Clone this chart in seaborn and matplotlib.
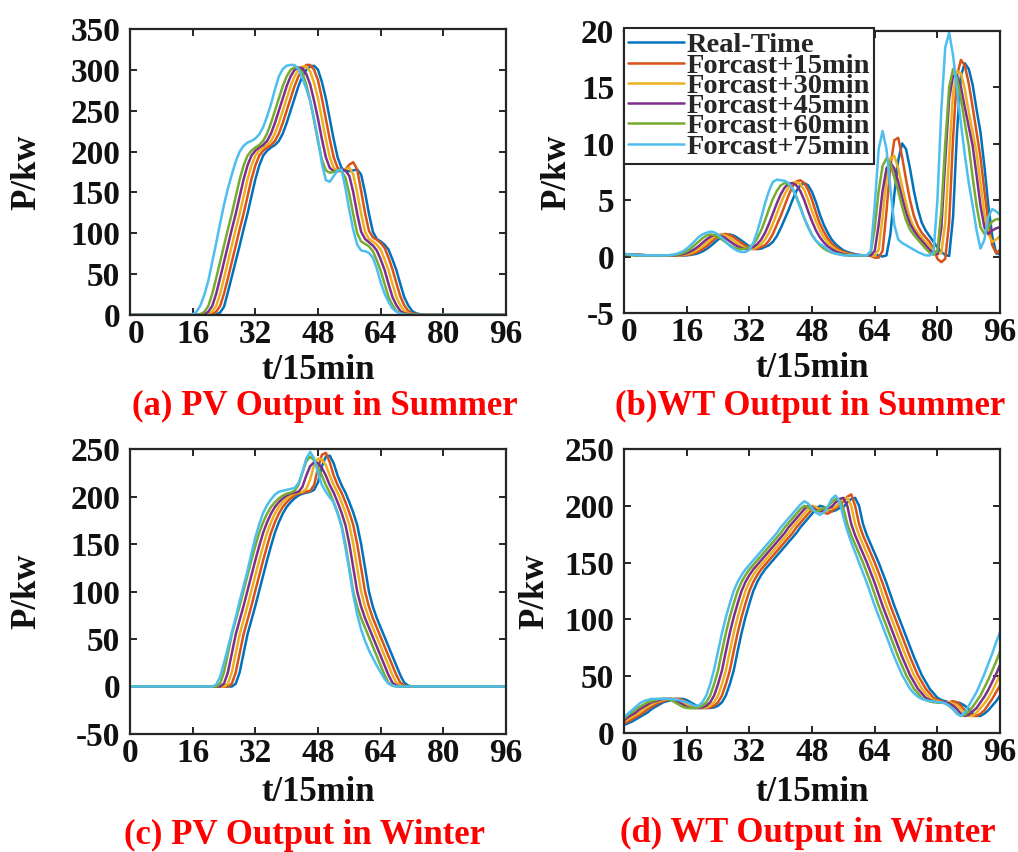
import numpy as np
import pandas as pd
import matplotlib
matplotlib.use("Agg")
import matplotlib.pyplot as plt
import matplotlib.transforms as mtransforms
import seaborn as sns

SERIES = ["Real-Time", "Forcast+15min", "Forcast+30min",
          "Forcast+45min", "Forcast+60min", "Forcast+75min"]
COLORS = ["#0072BD", "#D95319", "#EDB120", "#7E2F8E", "#77AC30", "#4DBEEE"]

T = np.arange(0, 97)   # time index, one step = 15 min

# ---------------- (a) PV output, summer (kW) ----------------
pv_sum_rt = [0]*22 + [0.5, 3, 10, 28, 47, 66, 85, 105, 124, 145, 166, 183, 195, 201, 205, 208,
                      213, 222, 235, 250, 265, 280, 292, 300, 304, 305, 300, 285, 265, 240, 215,
                      193, 180, 176, 176, 177, 178, 172, 150, 124, 102, 93, 90, 86, 80, 68, 55,
                      38, 22, 12, 5, 2, 1, 0.3] + [0]*21
pv_sum_15 = [0]*21 + [1, 4, 11, 26, 45, 65, 85, 105, 124, 145, 166, 183, 195, 201, 205, 208,
                      213, 222, 235, 250, 265, 280, 292, 301, 306, 306, 300, 287, 265, 240, 215,
                      193, 180, 177, 178, 184, 187, 178, 152, 125, 103, 95, 92, 88, 82, 70, 56,
                      39, 23, 12, 5, 2, 1, 0.3] + [0]*22
pv_sum_30 = [0]*20 + [1, 4, 11, 26, 45, 65, 85, 105, 124, 145, 166, 183, 195, 201, 205, 208,
                      213, 222, 235, 250, 265, 280, 292, 300, 304, 304, 298, 284, 265, 240, 215,
                      193, 180, 176, 176, 178, 180, 172, 150, 124, 102, 93, 90, 86, 80, 68, 55,
                      38, 22, 12, 5, 2, 1, 0.3] + [0]*23
pv_sum_45 = [0]*19 + [1, 4, 11, 26, 45, 65, 85, 105, 124, 145, 166, 183, 195, 201, 205, 208,
                      213, 222, 235, 250, 265, 280, 292, 300, 303, 302, 295, 282, 262, 240, 215,
                      193, 180, 176, 176, 177, 177, 170, 150, 124, 102, 93, 89, 85, 79, 68, 55,
                      38, 22, 12, 5, 2, 1, 0.3] + [0]*24
pv_sum_60 = [0]*18 + [1, 4, 11, 26, 45, 65, 85, 105, 124, 145, 166, 183, 195, 201, 205, 208,
                      213, 222, 235, 250, 265, 280, 292, 300, 303, 302, 296, 282, 262, 238, 212,
                      190, 177, 174, 175, 177, 176, 168, 148, 123, 100, 90, 87, 84, 78, 67, 54,
                      38, 22, 12, 5, 2, 1, 0.3] + [0]*25
pv_sum_75 = [0]*16 + [1, 4, 12, 25, 42, 65, 88, 112, 135, 155, 172, 188, 200, 207, 211, 213,
                      216, 221, 230, 243, 258, 276, 292, 301, 305, 306, 306, 301, 290, 277, 262,
                      240, 215, 185, 165, 163, 170, 177, 178, 155, 128, 104, 86, 79, 78, 76, 70,
                      57, 40, 26, 16, 8, 4, 1.5, 0.5] + [0]*26

# ---------------- (b) WT output, summer (kW) ----------------
wt_sum_rt = [0.2, 0.2, 0.2, 0.2, 0.15, 0.15, 0.1, 0.1, 0.1, 0.1,
             0.1, 0.1, 0.1, 0.1, 0.1, 0.1, 0.1, 0.15, 0.2, 0.3,
             0.45, 0.65, 0.9, 1.2, 1.5, 1.75, 1.9, 1.95, 1.85, 1.65,
             1.4, 1.15, 0.9, 0.75, 0.65, 0.7, 0.85, 1.0, 1.3, 1.8,
             2.5, 3.3, 4.1, 5.0, 5.8, 6.3, 6.5, 6.3, 5.7, 4.8,
             3.7, 2.8, 2.1, 1.5, 1.1, 0.8, 0.55, 0.4, 0.3, 0.2,
             0.15, 0.1, 0.1, 0.1, 0.1, 0.1, 0.0, 0.1, 2.0, 5.5,
             8.5, 10.0, 9.5, 7.8, 5.8, 4.2, 3.0, 2.3, 1.8, 1.3,
             0.8, 0.4, 0.15, 0.05, 3.5, 11.0, 16.0, 17.1, 16.6, 15.2,
             13.0, 11.0, 8.0, 4.5, 1.8, 0.3, 0.2]
wt_sum_15 = [0.2, 0.2, 0.2, 0.15, 0.15, 0.1, 0.1, 0.1, 0.1, 0.1,
             0.1, 0.1, 0.1, 0.1, 0.1, 0.1, 0.15, 0.2, 0.3, 0.45,
             0.65, 0.9, 1.2, 1.5, 1.8, 1.95, 2.0, 1.9, 1.7, 1.45,
             1.2, 0.95, 0.75, 0.65, 0.7, 0.85, 1.0, 1.4, 2.0, 2.8,
             3.6, 4.5, 5.4, 6.2, 6.65, 6.75, 6.5, 5.9, 5.0, 3.9,
             2.9, 2.2, 1.6, 1.15, 0.85, 0.6, 0.42, 0.3, 0.2, 0.15,
             0.1, 0.1, 0.1, 0.05, -0.1, -0.1, 0.5, 4.0, 8.0, 10.3,
             10.5, 8.8, 6.8, 5.0, 3.6, 2.7, 2.1, 1.7, 1.3, 0.7,
             -0.2, -0.5, -0.2, 3.0, 10.5, 16.0, 17.4, 16.9, 15.3, 13.2,
             11.0, 8.8, 5.8, 3.0, 1.0, 0.3, 0.6]
wt_sum_30 = [0.2, 0.2, 0.15, 0.15, 0.1, 0.1, 0.1, 0.1, 0.1, 0.1,
             0.1, 0.1, 0.1, 0.1, 0.1, 0.15, 0.2, 0.3, 0.45, 0.65,
             0.9, 1.2, 1.5, 1.75, 1.9, 1.95, 1.85, 1.65, 1.4, 1.15,
             0.9, 0.75, 0.65, 0.7, 0.85, 1.1, 1.5, 2.1, 2.9, 3.8,
             4.7, 5.5, 6.1, 6.5, 6.6, 6.4, 5.9, 5.0, 4.0, 3.1,
             2.3, 1.7, 1.25, 0.9, 0.65, 0.45, 0.32, 0.22, 0.15, 0.1,
             0.1, 0.1, 0.1, 0.1, 0.05, 0.6, 3.5, 6.8, 8.7, 8.9,
             7.8, 6.2, 4.7, 3.4, 2.6, 2.1, 1.7, 1.3, 0.9, 0.5,
             0.2, 0.3, 3.0, 9.0, 14.5, 16.4, 16.2, 14.8, 12.8, 11.0,
             9.2, 6.5, 3.8, 2.0, 1.3, 1.5, 1.8]
wt_sum_45 = [0.2, 0.15, 0.15, 0.1, 0.1, 0.1, 0.1, 0.1, 0.1, 0.1,
             0.1, 0.1, 0.1, 0.1, 0.15, 0.2, 0.3, 0.45, 0.65, 0.9,
             1.2, 1.5, 1.75, 1.9, 1.9, 1.8, 1.6, 1.35, 1.1, 0.9,
             0.75, 0.65, 0.7, 0.85, 1.1, 1.5, 2.1, 2.9, 3.8, 4.7,
             5.5, 6.1, 6.45, 6.5, 6.3, 5.8, 5.0, 4.0, 3.1, 2.3,
             1.7, 1.25, 0.9, 0.65, 0.45, 0.32, 0.22, 0.15, 0.1, 0.1,
             0.1, 0.1, 0.1, 0.1, 0.5, 2.8, 5.8, 7.8, 8.3, 7.8,
             6.6, 5.2, 3.9, 2.9, 2.3, 1.8, 1.4, 1.0, 0.6, 0.3,
             0.2, 2.5, 8.5, 14.0, 16.0, 16.0, 15.0, 13.2, 11.5, 9.8,
             7.2, 4.5, 2.6, 2.0, 2.3, 2.5, 2.6]
wt_sum_60 = [0.15, 0.15, 0.1, 0.1, 0.1, 0.1, 0.1, 0.1, 0.1, 0.1,
             0.1, 0.1, 0.1, 0.15, 0.2, 0.3, 0.45, 0.7, 1.0, 1.3,
             1.6, 1.85, 1.95, 1.9, 1.75, 1.5, 1.25, 1.0, 0.8, 0.7,
             0.65, 0.7, 0.85, 1.1, 1.6, 2.3, 3.2, 4.2, 5.1, 5.8,
             6.3, 6.5, 6.4, 6.0, 5.3, 4.4, 3.4, 2.6, 1.9, 1.4,
             1.0, 0.7, 0.5, 0.35, 0.25, 0.2, 0.15, 0.1, 0.1, 0.1,
             0.1, 0.1, 0.1, 0.4, 2.5, 5.8, 8.0, 8.7, 8.2, 7.0,
             5.8, 4.4, 3.2, 2.4, 1.9, 1.5, 1.1, 0.7, 0.35, 0.15,
             0.5, 4.0, 10.0, 15.0, 16.6, 15.8, 14.0, 11.8, 9.8, 7.0,
             4.5, 2.6, 2.0, 2.6, 3.1, 3.3, 3.3]
wt_sum_75 = [0.25, 0.2, 0.15, 0.15, 0.1, 0.1, 0.1, 0.1, 0.1, 0.1,
             0.1, 0.1, 0.15, 0.2, 0.3, 0.45, 0.7, 1.0, 1.35, 1.7,
             1.95, 2.1, 2.2, 2.15, 1.95, 1.65, 1.3, 0.95, 0.7, 0.5,
             0.4, 0.4, 0.6, 1.2, 2.2, 3.4, 4.7, 5.8, 6.6, 6.8,
             6.75, 6.7, 6.5, 6.0, 5.2, 4.3, 3.4, 2.6, 1.9, 1.4,
             1.1, 0.9, 0.6, 0.4, 0.25, 0.2, 0.1, 0.1, 0.1, 0.1,
             0.1, 0.1, 0.1, 0.5, 4.5, 9.5, 11.1, 9.5, 6.0, 2.8,
             1.5, 1.2, 1.0, 0.8, 0.6, 0.4, 0.25, 0.1, 0.1, 0.3,
             5.0, 13.0, 18.5, 19.8, 17.8, 14.8, 11.8, 9.0, 6.5, 4.5,
             2.3, 0.7, 1.5, 3.5, 4.2, 4.0, 3.7]

# ---------------- (c) PV output, winter (kW) ----------------
pv_win_rt = [0]*27 + [3, 15, 35, 55, 70, 85, 101, 117, 133, 148, 162, 173, 182, 189, 194,
                      198, 201, 203, 204, 205, 207, 215, 232, 242, 243, 235, 222, 212, 204,
                      194, 183, 170, 150, 125, 100, 84, 72, 62, 52, 42, 32, 22, 12, 4, 1] + [0]*25
pv_win_15 = [0]*26 + [3, 15, 35, 55, 70, 85, 101, 117, 133, 148, 162, 173, 182, 189, 194,
                      198, 201, 203, 204, 205, 206, 212, 230, 244, 246, 236, 222, 212, 204,
                      194, 183, 170, 150, 125, 100, 84, 72, 62, 52, 42, 32, 22, 12, 4, 1] + [0]*26
pv_win_30 = [0]*25 + [3, 15, 35, 55, 70, 85, 101, 117, 133, 148, 162, 173, 182, 189, 194,
                      198, 201, 203, 204, 205, 208, 218, 233, 240, 239, 233, 222, 212, 204,
                      194, 183, 170, 150, 125, 100, 84, 72, 62, 52, 42, 32, 22, 12, 4, 1] + [0]*27
pv_win_45 = [0]*24 + [3, 15, 35, 55, 70, 85, 101, 117, 133, 148, 162, 173, 182, 189, 194,
                      198, 201, 203, 204, 205, 210, 222, 232, 236, 235, 230, 222, 212, 204,
                      194, 183, 170, 150, 125, 100, 84, 72, 62, 52, 42, 32, 22, 12, 4, 1] + [0]*28
pv_win_60 = [0]*23 + [3, 15, 35, 55, 70, 85, 101, 117, 133, 148, 162, 173, 182, 189, 194,
                      198, 201, 203, 204, 206, 212, 225, 237, 242, 238, 230, 222, 212, 204,
                      194, 183, 170, 150, 125, 100, 84, 72, 62, 52, 42, 32, 22, 12, 4, 1] + [0]*29
pv_win_75 = [0]*22 + [2, 10, 25, 41, 57, 73, 90, 106, 122, 140, 157, 171, 183, 191, 197, 202,
                      205, 206, 207, 208, 209, 214, 225, 240, 247, 240, 225, 212, 205, 199,
                      194, 182, 168, 146, 122, 96, 76, 60, 48, 38, 30, 22, 15, 8, 3, 1] + [0]*29

# ---------------- (d) WT output, winter (kW) ----------------
wt_win_rt = [7, 8.5, 10, 12, 14, 16, 18, 21, 23, 25, 27, 28, 29, 30, 30, 30, 29, 27, 25, 23,
             22, 22, 22, 22.5, 24, 27, 33, 43, 55, 72, 88, 102, 114, 125, 133, 139, 144, 148,
             152, 156, 160, 164, 168, 172, 176, 181, 185, 189, 193, 197, 200, 199, 196, 195,
             196, 198, 199, 203, 206, 207, 200, 184, 174, 166, 158, 150, 141, 132, 122, 112,
             103, 94, 85, 76, 67, 59, 51, 45, 39, 35, 31, 29, 28, 27, 27, 27, 26, 24, 21, 17,
             15, 15, 17, 20, 24, 28, 33]
wt_win_15 = [8.5, 10, 12, 14, 16, 18, 21, 23, 25, 27, 28, 29, 30, 30, 30, 29, 27, 25, 23, 22,
             22, 22, 22.5, 24, 27, 33, 43, 55, 72, 88, 102, 114, 125, 133, 139, 144, 148, 152,
             156, 160, 164, 168, 172, 176, 181, 185, 189, 193, 197, 199, 197, 194, 193, 195,
             198, 200, 204, 208, 210, 200, 184, 174, 166, 158, 150, 141, 132, 122, 112, 103,
             94, 85, 76, 67, 59, 51, 45, 39, 35, 31, 29, 28, 27, 27, 28, 27, 24, 20, 17, 15,
             15, 17, 20, 25, 30, 36, 42]
wt_win_30 = [10, 12, 14, 16, 18, 21, 23, 25, 27, 28, 29, 30, 30, 30, 29, 27, 25, 23, 22, 22,
             22, 22.5, 24, 27, 33, 43, 55, 72, 88, 102, 114, 125, 133, 139, 144, 148, 152, 156,
             160, 164, 168, 172, 176, 181, 185, 189, 193, 197, 200, 199, 196, 195, 196, 198,
             199, 203, 206, 207, 200, 184, 174, 166, 158, 150, 141, 132, 122, 112, 103, 94,
             85, 76, 67, 59, 51, 45, 39, 35, 31, 29, 28, 27, 27, 27, 26, 24, 21, 17, 15, 15,
             18, 22, 26, 31, 37, 44, 51]
wt_win_45 = [11, 14, 16, 18, 21, 23, 25, 27, 28, 29, 30, 30, 30, 29, 27, 25, 23, 22, 22, 22,
             22.5, 24, 27, 33, 43, 55, 72, 88, 102, 114, 125, 133, 139, 144, 148, 152, 156, 160,
             164, 168, 172, 176, 181, 185, 189, 193, 197, 200, 199, 196, 195, 196, 198, 199,
             203, 206, 207, 200, 184, 174, 166, 158, 150, 141, 132, 122, 112, 103, 94, 85,
             76, 67, 59, 51, 45, 39, 35, 31, 29, 28, 27, 27, 27, 26, 24, 21, 17, 15, 16, 19,
             22, 27, 32, 38, 45, 52, 60]
wt_win_60 = [12.5, 16, 18, 21, 23, 25, 27, 28, 29, 30, 30, 30, 29, 27, 25, 23, 22, 22, 22, 22.5,
             24, 27, 33, 43, 55, 72, 88, 102, 114, 125, 133, 139, 144, 148, 152, 156, 160, 164,
             168, 172, 176, 181, 185, 189, 193, 197, 200, 199, 196, 195, 196, 198, 199, 203,
             206, 205, 198, 184, 174, 166, 158, 150, 141, 132, 122, 112, 103, 94, 85, 76,
             67, 59, 51, 45, 39, 35, 31, 29, 28, 27, 27, 27, 26, 24, 21, 17, 15, 16, 19, 23,
             28, 33, 40, 47, 55, 63, 72]
wt_win_75 = [14, 17, 20, 23, 26, 28, 29, 30, 30, 30, 30, 30, 30, 29.5, 29, 28, 27, 25.5, 24, 24,
             27, 33, 43, 56, 72, 88, 102, 114, 125, 133, 139, 144, 148, 152, 156, 160, 164, 168,
             172, 176, 181, 185, 189, 193, 197, 201, 204, 202, 198, 194, 192, 194, 199, 206,
             209, 204, 190, 178, 168, 159, 150, 141, 132, 122, 112, 103, 94, 85, 76, 67,
             59, 51, 45, 39, 35, 32, 30, 29, 28, 28, 27, 27, 26, 24, 21, 17, 15, 18, 24, 30,
             36, 44, 52, 61, 70, 80, 89]

PANELS = [
    dict(ys=[pv_sum_rt, pv_sum_15, pv_sum_30, pv_sum_45, pv_sum_60, pv_sum_75],
         ylim=(0, 350), yticks=np.arange(0, 351, 50),
         rect=[0.1277, 0.6303, 0.3694, 0.3357],
         title="(a) PV Output in Summer", title_xy=(0.519, -0.32),
         xlabel_y=-0.194, ylabel_x=-0.274, zero_shift=6),
    dict(ys=[wt_sum_rt, wt_sum_15, wt_sum_30, wt_sum_45, wt_sum_60, wt_sum_75],
         ylim=(-5, 20), yticks=np.arange(-5, 21, 5),
         rect=[0.6130, 0.6326, 0.3694, 0.3316],
         title="(b)WT Output in Summer", title_xy=(0.495, -0.33),
         xlabel_y=-0.195, ylabel_x=-0.178, zero_shift=5),
    dict(ys=[pv_win_rt, pv_win_15, pv_win_30, pv_win_45, pv_win_60, pv_win_75],
         ylim=(-50, 250), yticks=np.arange(-50, 251, 50),
         rect=[0.1277, 0.1385, 0.3694, 0.3345],
         title="(c) PV Output in Winter", title_xy=(0.465, -0.355),
         xlabel_y=-0.207, ylabel_x=-0.274, zero_shift=0),
    dict(ys=[wt_win_rt, wt_win_15, wt_win_30, wt_win_45, wt_win_60, wt_win_75],
         ylim=(0, 250), yticks=np.arange(0, 251, 50),
         rect=[0.6130, 0.1397, 0.3694, 0.3333],
         title="(d) WT Output in Winter", title_xy=(0.49, -0.355),
         xlabel_y=-0.21, ylabel_x=-0.237, zero_shift=5),
]

sns.set_style("ticks")
plt.rcParams["font.family"] = ["Liberation Serif", "DejaVu Serif"]
plt.rcParams["font.weight"] = "bold"
plt.rcParams["axes.labelweight"] = "bold"
plt.rcParams["axes.unicode_minus"] = False

EDGE = "#262626"
fig = plt.figure(figsize=(10.18, 8.52), dpi=100)

axes = []
for p in PANELS:
    ax = fig.add_axes(p["rect"])
    frames = [pd.DataFrame({"t": T, "P": vals, "series": name})
              for name, vals in zip(SERIES, p["ys"])]
    df = pd.concat(frames, ignore_index=True)
    sns.lineplot(data=df, x="t", y="P", hue="series", hue_order=SERIES,
                 palette=COLORS, estimator=None, linewidth=1.8, legend=False, ax=ax)
    ax.set_xlim(0, 96)
    ax.set_xticks(np.arange(0, 97, 16))
    ax.set_ylim(*p["ylim"])
    ax.set_yticks(p["yticks"])
    ax.tick_params(direction="in", length=5, width=1.4, top=True, right=True,
                   labelsize=24, pad=3, color=EDGE, labelcolor="#111111")
    ax.tick_params(axis="y", pad=7)
    for s in ax.spines.values():
        s.set_color(EDGE)
        s.set_linewidth(1.6)
    # nudge the "0" time label off the corner, clear of the y-axis labels
    first = ax.get_xticklabels()[0]
    first.set_transform(first.get_transform() +
                        mtransforms.ScaledTranslation(p["zero_shift"] / 100, 0,
                                                      fig.dpi_scale_trans))
    ax.set_xlabel("t/15min", fontsize=25, fontweight="bold", color="#111111", va="center")
    ax.xaxis.set_label_coords(0.5, p["xlabel_y"])
    ax.set_ylabel("P/kw", fontsize=25, fontweight="bold", color="#111111", va="center")
    ax.yaxis.set_label_coords(p["ylabel_x"], 0.5)
    ax.text(p["title_xy"][0], p["title_xy"][1], p["title"], transform=ax.transAxes,
            ha="center", va="center", fontsize=25, fontweight="bold", color="#FF0000")
    axes.append(ax)

ax_b = axes[1]
handles = ax_b.get_lines()[:len(SERIES)]
leg = ax_b.legend(handles, SERIES, loc="upper left", bbox_to_anchor=(0, 1.008),
                  borderaxespad=0, frameon=True, fancybox=False, framealpha=1,
                  edgecolor=EDGE, labelspacing=-0.2,
                  handlelength=1.95, handletextpad=0.1, borderpad=0.15,
                  prop={"weight": "bold", "size": 20.5})
leg.get_frame().set_linewidth(1.5)

fig.savefig("out.png", dpi=100)
